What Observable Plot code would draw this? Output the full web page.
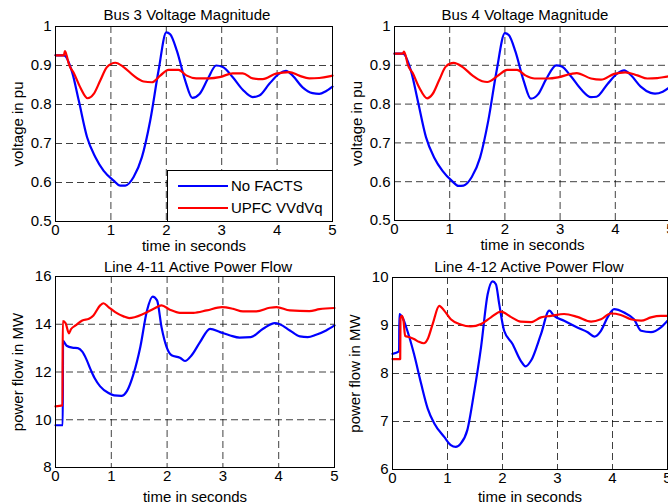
<!DOCTYPE html>
<html>
<head>
<meta charset="utf-8">
<script src="https://cdn.jsdelivr.net/npm/d3@7"></script>
<script src="https://cdn.jsdelivr.net/npm/@observablehq/plot@0.6"></script>
<style>
  html, body { margin: 0; padding: 0; background: #fff; }
  #wrap { position: relative; width: 668px; height: 503px; overflow: hidden; background: #fff;
          font-family: "Liberation Sans", Arial, Helvetica, sans-serif; color: #000; }
  .title { position: absolute; font-size: 15px; line-height: 15px; white-space: nowrap; transform: translateX(-50%); }
  #legend { position: absolute; box-sizing: border-box; border: 1px solid #000; background: #fff; font-size: 15px; }
  .lrow { position: absolute; left: 0; right: 0; height: 18px; }
  .lsw { position: absolute; left: 10px; width: 50px; top: 8px; height: 0; border-top: 2px solid; }
  .ltx { position: absolute; left: 63px; top: 0; line-height: 18px; white-space: nowrap; }
</style>
</head>
<body>
<div id="wrap"></div>
<script>
// ---------- data ----------
const xTicks = [0, 1, 2, 3, 4, 5];
const voltTicks = [0.5, 0.6, 0.7, 0.8, 0.9, 1];
const flow411Ticks = [8, 10, 12, 14, 16];
const flow412Ticks = [6, 7, 8, 9, 10];
const seriesNames = ["No FACTS", "UPFC VVdVq"];
const seriesColors = ["#0000ff", "#ff0000"];
const titles = ["Bus 3 Voltage Magnitude", "Bus 4 Voltage Magnitude", "Line 4-11 Active Power Flow", "Line 4-12 Active Power Flow"];
const xLabel = "time in seconds";
const yLabels = ["voltage in pu", "voltage in pu", "power flow in MW", "power flow in MW"];

// Bus 3 voltage
const bus3NoFactsT = [0, 0.15, 0.3, 0.42, 0.57, 0.72, 0.87, 1.05, 1.17, 1.26, 1.41, 1.56, 1.71, 1.86, 2.0, 2.07, 2.19, 2.34, 2.47, 2.6, 2.75, 2.9, 3.02, 3.2, 3.38, 3.56, 3.68, 3.86, 4.04, 4.16, 4.28, 4.46, 4.64, 4.76, 4.88, 5.0];
const bus3NoFactsV = [0.926, 0.926, 0.883, 0.81, 0.716, 0.665, 0.63, 0.605, 0.592, 0.592, 0.614, 0.665, 0.759, 0.887, 0.985, 0.98, 0.938, 0.862, 0.817, 0.827, 0.866, 0.9, 0.896, 0.87, 0.838, 0.819, 0.823, 0.853, 0.879, 0.886, 0.874, 0.844, 0.829, 0.827, 0.834, 0.846];
const bus3UpfcT = [0, 0.15, 0.17, 0.2, 0.24, 0.33, 0.45, 0.58, 0.69, 0.81, 0.93, 1.08, 1.23, 1.41, 1.59, 1.74, 1.89, 2.04, 2.22, 2.37, 2.54, 2.78, 2.96, 3.2, 3.38, 3.56, 3.74, 3.98, 4.22, 4.4, 4.58, 4.76, 4.94, 5.0];
const bus3UpfcV = [0.926, 0.926, 0.937, 0.926, 0.904, 0.881, 0.843, 0.816, 0.827, 0.862, 0.896, 0.907, 0.896, 0.874, 0.859, 0.857, 0.874, 0.889, 0.889, 0.874, 0.867, 0.867, 0.87, 0.88, 0.88, 0.867, 0.865, 0.879, 0.883, 0.874, 0.867, 0.868, 0.872, 0.874];

// Bus 4 voltage
const bus4NoFactsT = [0, 0.15, 0.3, 0.42, 0.57, 0.72, 0.87, 1.04, 1.16, 1.25, 1.4, 1.55, 1.7, 1.85, 2.0, 2.07, 2.19, 2.34, 2.47, 2.6, 2.75, 2.93, 3.03, 3.2, 3.38, 3.56, 3.66, 3.86, 4.04, 4.16, 4.28, 4.46, 4.64, 4.72, 4.86, 5.0];
const bus4NoFactsV = [0.93, 0.93, 0.885, 0.81, 0.715, 0.662, 0.628, 0.602, 0.589, 0.59, 0.612, 0.662, 0.758, 0.886, 0.983, 0.978, 0.936, 0.86, 0.814, 0.825, 0.865, 0.9, 0.897, 0.871, 0.838, 0.818, 0.819, 0.852, 0.879, 0.887, 0.875, 0.845, 0.829, 0.827, 0.832, 0.845];
const bus4UpfcT = [0, 0.15, 0.17, 0.2, 0.24, 0.33, 0.45, 0.59, 0.69, 0.81, 0.93, 1.07, 1.23, 1.41, 1.59, 1.68, 1.89, 2.04, 2.22, 2.37, 2.54, 2.78, 2.96, 3.2, 3.3, 3.56, 3.74, 3.98, 4.18, 4.4, 4.58, 4.76, 4.94, 5.0];
const bus4UpfcV = [0.93, 0.93, 0.935, 0.926, 0.902, 0.88, 0.842, 0.815, 0.826, 0.862, 0.897, 0.906, 0.896, 0.874, 0.859, 0.857, 0.875, 0.888, 0.888, 0.874, 0.866, 0.866, 0.869, 0.878, 0.88, 0.866, 0.863, 0.878, 0.882, 0.874, 0.866, 0.867, 0.871, 0.872];

// Line 4-11 active power flow
const line411NoFactsT = [0, 0.13, 0.135, 0.2, 0.3, 0.4, 0.48, 0.55, 0.63, 0.7, 0.8, 0.95, 1.05, 1.18, 1.28, 1.4, 1.52, 1.64, 1.74, 1.82, 1.9, 1.99, 2.08, 2.23, 2.32, 2.44, 2.59, 2.77, 2.95, 3.13, 3.3, 3.5, 3.72, 3.93, 4.02, 4.2, 4.38, 4.52, 4.67, 4.85, 5.0];
const line411NoFactsV = [9.77, 9.77, 13.3, 13.1, 13.02, 13.0, 12.85, 12.55, 12.1, 11.75, 11.4, 11.12, 11.02, 11.0, 11.2, 11.93, 13.05, 14.58, 15.16, 15.0, 13.88, 13.05, 12.7, 12.6, 12.46, 12.7, 13.25, 13.81, 13.67, 13.53, 13.44, 13.46, 13.81, 14.05, 14.0, 13.74, 13.49, 13.46, 13.56, 13.74, 13.95];
const line411UpfcT = [0, 0.125, 0.13, 0.18, 0.24, 0.28, 0.36, 0.48, 0.6, 0.68, 0.8, 0.86, 0.95, 1.07, 1.22, 1.32, 1.58, 1.76, 1.9, 2.05, 2.23, 2.47, 2.71, 2.98, 3.18, 3.36, 3.6, 3.84, 3.96, 4.2, 4.55, 4.73, 5.0];
const line411UpfcV = [10.56, 10.6, 14.13, 14.05, 13.62, 13.8, 13.95, 14.16, 14.23, 14.37, 14.79, 14.88, 14.72, 14.51, 14.33, 14.26, 14.44, 14.65, 14.79, 14.61, 14.48, 14.48, 14.58, 14.72, 14.65, 14.54, 14.54, 14.69, 14.72, 14.58, 14.55, 14.63, 14.68];

// Line 4-12 active power flow
const line412NoFactsT = [0, 0.12, 0.125, 0.18, 0.27, 0.39, 0.52, 0.64, 0.76, 0.94, 1.06, 1.15, 1.24, 1.36, 1.48, 1.61, 1.73, 1.82, 1.88, 1.94, 2.03, 2.18, 2.33, 2.42, 2.52, 2.7, 2.85, 2.94, 3.12, 3.36, 3.55, 3.67, 3.79, 3.91, 4.03, 4.21, 4.39, 4.52, 4.7, 4.88, 5.0];
const line412NoFactsV = [8.41, 8.46, 9.24, 9.17, 8.89, 8.41, 7.79, 7.27, 6.96, 6.68, 6.51, 6.47, 6.54, 6.82, 7.58, 8.55, 9.65, 9.92, 9.86, 9.45, 8.89, 8.62, 8.27, 8.15, 8.27, 8.82, 9.31, 9.2, 9.1, 8.96, 8.86, 8.77, 8.89, 9.17, 9.34, 9.27, 9.13, 8.89, 8.86, 8.96, 9.1];
const line412UpfcT = [0, 0.14, 0.145, 0.17, 0.2, 0.23, 0.3, 0.39, 0.48, 0.57, 0.64, 0.73, 0.85, 0.94, 1.06, 1.24, 1.42, 1.61, 1.79, 1.97, 2.15, 2.33, 2.52, 2.7, 2.88, 3.12, 3.36, 3.61, 3.79, 3.97, 4.15, 4.33, 4.52, 4.7, 4.88, 5.0];
const line412UpfcV = [8.3, 8.3, 9.15, 9.2, 9.1, 8.78, 8.76, 8.72, 8.66, 8.63, 8.72, 9.03, 9.41, 9.31, 9.13, 9.02, 8.98, 9.03, 9.17, 9.29, 9.18, 9.08, 9.07, 9.17, 9.2, 9.24, 9.18, 9.08, 9.13, 9.25, 9.22, 9.13, 9.1, 9.17, 9.2, 9.2];

// ---------- drawing ----------
const FONT = '"Liberation Sans", Arial, Helvetica, sans-serif';
const wrap = document.getElementById("wrap");
const rows = (t, v) => t.map((d, i) => ({t: d, v: v[i]}));

function panel(cfg) {
  const gridStyle = {stroke: "#000", strokeOpacity: 0.75, strokeWidth: 1, strokeDasharray: "7,4"};
  const chart = Plot.plot({
    width: cfg.width, height: cfg.height,
    marginLeft: cfg.ml, marginRight: cfg.mr, marginTop: cfg.mt, marginBottom: cfg.mb,
    style: {background: "transparent", overflow: "visible", fontFamily: FONT, fontSize: "15px", color: "#000", maxWidth: "none"},
    x: {domain: [xTicks[0], xTicks[xTicks.length - 1]]},
    y: {domain: [cfg.yTicks[0], cfg.yTicks[cfg.yTicks.length - 1]]},
    marks: [
      Plot.gridX(xTicks.slice(1, -1), gridStyle),
      Plot.gridY(cfg.yTicks.slice(1, -1), gridStyle),
      Plot.line(rows(cfg.bT, cfg.bV), {x: "t", y: "v", stroke: seriesColors[0], strokeWidth: 2.2, curve: "monotone-x"}),
      Plot.line(rows(cfg.rT, cfg.rV), {x: "t", y: "v", stroke: seriesColors[1], strokeWidth: 2.2, curve: "monotone-x"}),
      Plot.frame({stroke: "#000", strokeWidth: 1}),
      Plot.axisX(xTicks, {tickSize: 0, tickPadding: 3, fontSize: 15, tickFormat: d => String(d),
        label: xLabel, labelAnchor: "center", labelArrow: "none", labelOffset: cfg.xlo}),
      Plot.axisY(cfg.yTicks, {tickSize: 0, tickPadding: 4, fontSize: 15, tickFormat: d => String(d),
        label: cfg.ylabel, labelAnchor: "center", labelArrow: "none", labelOffset: cfg.ylo})
    ]
  });
  chart.style.position = "absolute";
  chart.style.left = cfg.left + "px";
  chart.style.top = cfg.top + "px";
  wrap.appendChild(chart);

  const t = document.createElement("div");
  t.className = "title";
  t.textContent = cfg.title;
  t.style.left = cfg.titleX + "px";
  t.style.top = cfg.titleY + "px";
  wrap.appendChild(t);
}

panel({left: 0, top: 0, width: 340, height: 250, ml: 55, mr: 8, mt: 26, mb: 29, xlo: 29, ylo: 43,
  yTicks: voltTicks, ylabel: yLabels[0], title: titles[0], titleX: 187, titleY: 7,
  bT: bus3NoFactsT, bV: bus3NoFactsV, rT: bus3UpfcT, rV: bus3UpfcV});
panel({left: 334, top: 0, width: 350, height: 250, ml: 60, mr: 14, mt: 26, mb: 30, xlo: 29, ylo: 43,
  yTicks: voltTicks, ylabel: yLabels[1], title: titles[1], titleX: 525, titleY: 7,
  bT: bus4NoFactsT, bV: bus4NoFactsV, rT: bus4UpfcT, rV: bus4UpfcV});
panel({left: 0, top: 250, width: 340, height: 253, ml: 55, mr: 6, mt: 26, mb: 36, xlo: 34, ylo: 43,
  yTicks: flow411Ticks, ylabel: yLabels[2], title: titles[2], titleX: 198, titleY: 259,
  bT: line411NoFactsT, bV: line411NoFactsV, rT: line411UpfcT, rV: line411UpfcV});
panel({left: 334, top: 250, width: 350, height: 253, ml: 58, mr: 17, mt: 27, mb: 34, xlo: 32, ylo: 43,
  yTicks: flow412Ticks, ylabel: yLabels[3], title: titles[3], titleX: 529, titleY: 259,
  bT: line412NoFactsT, bV: line412NoFactsV, rT: line412UpfcT, rV: line412UpfcV});

// legend (top-left panel)
const legend = document.createElement("div");
legend.id = "legend";
legend.style.left = "167px";
legend.style.top = "170px";
legend.style.width = "166px";
legend.style.height = "52px";
seriesNames.forEach((name, i) => {
  const r = document.createElement("div");
  r.className = "lrow";
  r.style.top = (6 + i * 22) + "px";
  const sw = document.createElement("div");
  sw.className = "lsw";
  sw.style.borderTopColor = seriesColors[i];
  const tx = document.createElement("div");
  tx.className = "ltx";
  tx.textContent = name;
  r.appendChild(sw);
  r.appendChild(tx);
  legend.appendChild(r);
});
wrap.appendChild(legend);
</script>
</body>
</html>
